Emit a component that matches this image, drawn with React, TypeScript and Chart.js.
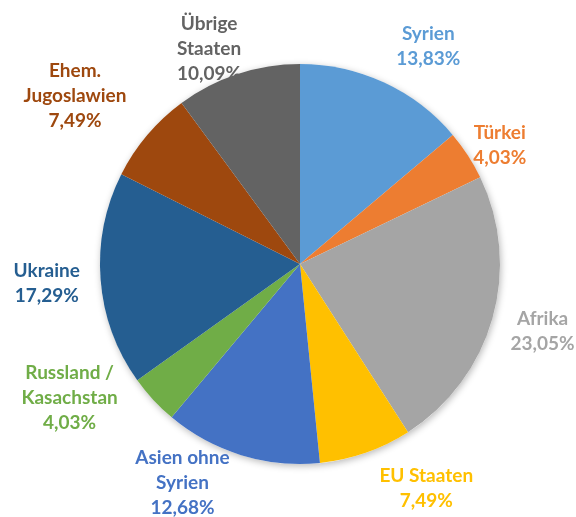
import React, { useEffect, useRef } from "react";
import { Chart, registerables } from "chart.js";

Chart.register(...registerables);

const categories: string[][] = [
  ["Syrien"],
  ["Türkei"],
  ["Afrika"],
  ["EU Staaten"],
  ["Asien ohne", "Syrien"],
  ["Russland /", "Kasachstan"],
  ["Ukraine"],
  ["Ehem.", "Jugoslawien"],
  ["Übrige", "Staaten"],
];
const shares: number[] = [13.83, 4.03, 23.05, 7.49, 12.68, 4.03, 17.29, 7.49, 10.09];
const colors: string[] = [
  "#5B9BD5",
  "#ED7D31",
  "#A5A5A5",
  "#FFC000",
  "#4472C4",
  "#70AD47",
  "#255E91",
  "#9E480E",
  "#636363",
];

const fmt = (v: number) => v.toFixed(2).replace(".", ",") + "%";

const shadowPlugin = {
  id: "pieShadow",
  beforeDatasetsDraw(chart: any) {
    const meta = chart.getDatasetMeta(0);
    const arc = meta.data[0];
    if (!arc) return;
    const { x, y, outerRadius } = arc.getProps(["x", "y", "outerRadius"], true);
    const ctx = chart.ctx;
    ctx.save();
    ctx.shadowColor = "rgba(0,0,0,0.28)";
    ctx.shadowBlur = 7;
    ctx.shadowOffsetX = 1;
    ctx.shadowOffsetY = 2;
    ctx.fillStyle = "#ffffff";
    ctx.beginPath();
    ctx.arc(x, y, outerRadius, 0, Math.PI * 2);
    ctx.fill();
    ctx.restore();
  },
};

const labelPlugin = {
  id: "outLabels",
  afterDatasetsDraw(chart: any, _args: any, opts: any) {
    const meta = chart.getDatasetMeta(0);
    const ctx = chart.ctx;
    const dist: number = opts.distance ?? 50;
    const nudges: number[][] = opts.nudges ?? [];
    const lh: number = opts.lineHeight ?? 25;
    ctx.save();
    ctx.font = "bold 19px Lato, 'Open Sans', sans-serif";
    ctx.textAlign = "center";
    ctx.textBaseline = "middle";
    meta.data.forEach((arc: any, i: number) => {
      const p = arc.getProps(["x", "y", "startAngle", "endAngle", "outerRadius"], true);
      const mid = (p.startAngle + p.endAngle) / 2;
      const r = p.outerRadius + dist;
      const n = nudges[i] || [0, 0];
      const cx = p.x + Math.cos(mid) * r + n[0];
      const cy = p.y + Math.sin(mid) * r + n[1];
      const lines = [...categories[i], fmt(shares[i])];
      const top = cy - ((lines.length - 1) * lh) / 2;
      ctx.fillStyle = colors[i];
      lines.forEach((t, k) => ctx.fillText(t, cx, top + k * lh));
    });
    ctx.restore();
  },
};

export default function App() {
  const ref = useRef<HTMLCanvasElement | null>(null);
  useEffect(() => {
    document.body.style.margin = "0";
    if (!ref.current) return;
    const chart = new Chart(ref.current, {
      type: "pie",
      data: {
        labels: categories.map((c) => c.join(" ")),
        datasets: [
          {
            data: shares,
            backgroundColor: colors,
            borderWidth: 0,
          },
        ],
      },
      options: {
        animation: false,
        responsive: false,
        maintainAspectRatio: false,
        layout: { padding: { left: 100, right: 76, top: 64, bottom: 53 } },
        plugins: {
          legend: { display: false },
          tooltip: { enabled: false },
          outLabels: {
            distance: 50,
            lineHeight: 25,
            nudges: [
              [23, 9],
              [-10, 17],
              [2, -1],
              [44, -12],
              [-44, -20],
              [-47, -36],
              [-4, 0],
              [-34, -7],
              [-13, 22],
            ],
          },
        } as any,
      },
      plugins: [shadowPlugin, labelPlugin],
    });
    return () => chart.destroy();
  }, []);
  return (
    <div style={{ width: 576, height: 517, background: "#fff" }}>
      <canvas ref={ref} width={576} height={517} style={{ display: "block" }} />
    </div>
  );
}
